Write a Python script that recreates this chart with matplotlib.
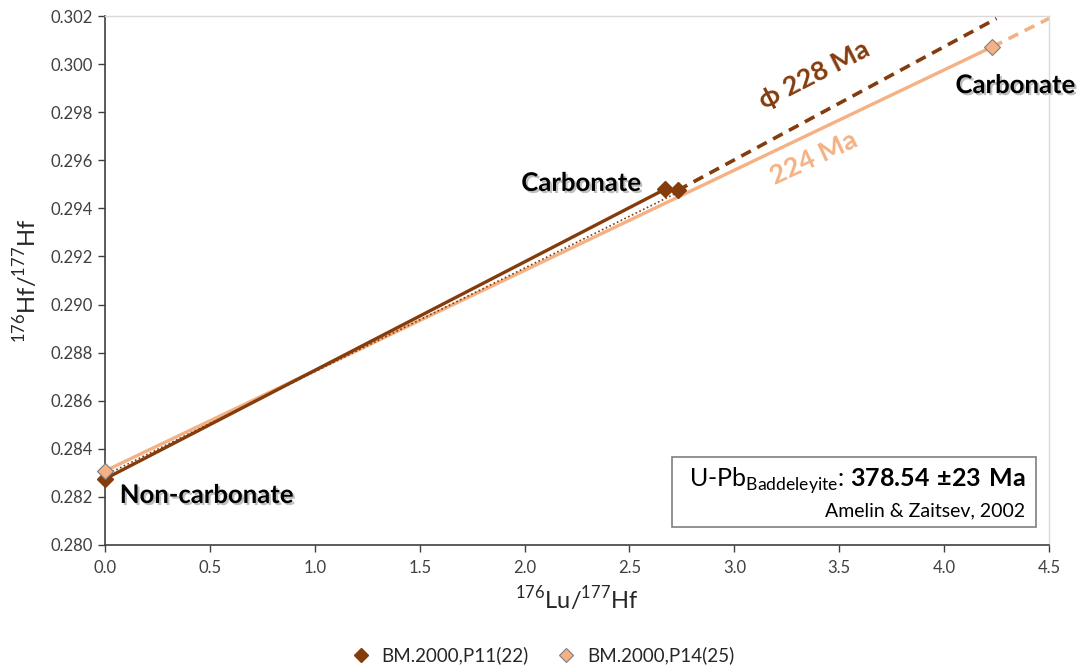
import matplotlib
matplotlib.use("Agg")
import matplotlib.pyplot as plt
import matplotlib.patheffects as pe
from matplotlib.patches import Rectangle
from matplotlib.lines import Line2D

plt.rcParams['font.family'] = ['Lato', 'DejaVu Sans']
plt.rcParams['mathtext.fontset'] = 'custom'
plt.rcParams['mathtext.rm'] = 'Lato'
plt.rcParams['mathtext.bf'] = 'Lato:bold'

# data
p11_x = [0.0, 2.67, 2.73]
p11_y = [0.28275, 0.29480, 0.29475]
p14_x = [0.0, 4.23]
p14_y = [0.28308, 0.30072]
# isochron extensions (dashed) and reference dotted line
p11_ext_x = [2.73, 4.25]
p11_ext_y = [0.29475, 0.30190]
p14_ext_x = [4.23, 4.50]
p14_ext_y = [0.30072, 0.30190]
ref_x = [0.0, 2.72]
ref_y = [0.28290, 0.29462]

dark = '#843C0C'
light = '#F4B183'

fig = plt.figure(figsize=(10.83, 6.7), dpi=100)
ax = fig.add_axes([0.097, 0.1866, 0.8716, 0.7894])

ax.plot(p11_ext_x, p11_ext_y, color=dark, lw=2.6, ls=(0, (3, 2)), zorder=2)
ax.plot(p14_ext_x, p14_ext_y, color=light, lw=2.6, ls=(0, (3, 2)), zorder=2)
ax.plot(p14_x, p14_y, color=light, lw=2.4, zorder=2)
ax.plot(p11_x[:2], p11_y[:2], color=dark, lw=2.4, zorder=3)
ax.plot(ref_x, ref_y, color=dark, lw=1.2, ls=(0, (1, 1.5)), zorder=3)

ax.plot(p11_x, p11_y, ls='none', marker='D', ms=8, color=dark, mec=dark, zorder=5, clip_on=False)
ax.plot(p14_x, p14_y, ls='none', marker='D', ms=8, color=light, mec='#7f7f7f', mew=0.8, zorder=5, clip_on=False)

ax.set_xlim(0, 4.5)
ax.set_ylim(0.280, 0.302)
ax.set_xticks([0.0, 0.5, 1.0, 1.5, 2.0, 2.5, 3.0, 3.5, 4.0, 4.5])
ax.set_yticks([0.280, 0.282, 0.284, 0.286, 0.288, 0.290, 0.292, 0.294, 0.296, 0.298, 0.300, 0.302])
ax.xaxis.set_major_formatter(matplotlib.ticker.FormatStrFormatter('%.1f'))
ax.yaxis.set_major_formatter(matplotlib.ticker.FormatStrFormatter('%.3f'))
ax.tick_params(labelsize=12, colors='#404040', length=5, width=1, direction='out')
ax.tick_params(axis='x', pad=6)
for s in ['left', 'bottom']:
    ax.spines[s].set_color('#404040')
    ax.spines[s].set_linewidth(1.2)
for s in ['top', 'right']:
    ax.spines[s].set_color('#d9d9d9')
    ax.spines[s].set_linewidth(1)

ax.set_xlabel('$^{176}$Lu/$^{177}$Hf', fontsize=17, color='#262626', labelpad=6)
ax.set_ylabel('$^{176}$Hf/$^{177}$Hf', fontsize=17, color='#262626', labelpad=8)

def label(x, y, s, ha='center'):
    t = ax.text(x, y, s, fontsize=18.5, fontweight='bold', color='black', ha=ha, va='center')
    t.set_path_effects([pe.withSimplePatchShadow(offset=(1.5, -1.5), shadow_rgbFace='#808080', alpha=0.5)])
    return t

label(2.27, 0.29506, 'Carbonate')
label(4.34, 0.29913, 'Carbonate')
label(0.07, 0.28208, 'Non-carbonate', ha='left')

ax.text(3.38, 0.29955, 'ϕ 228 Ma', fontsize=19.5, fontweight='bold', color=dark,
        ha='center', va='center', rotation=27)
ax.text(3.38, 0.29610, '224 Ma', fontsize=19.5, fontweight='bold', color=light,
        ha='center', va='center', rotation=25)

ax.add_patch(Rectangle((0.6006, 0.034), 0.386, 0.132, transform=ax.transAxes,
                       fill=False, ec='#7f7f7f', lw=1.2, zorder=6))
ax.text(0.975, 0.122, r'U-Pb$_{\mathrm{Baddeleyite}}$: $\mathbf{378.54\ ±23\ Ma}$',
        transform=ax.transAxes, ha='right', va='center', fontsize=18, color='black')
ax.text(0.975, 0.064, 'Amelin & Zaitsev, 2002', transform=ax.transAxes,
        ha='right', va='center', fontsize=14, color='black')

handles = [Line2D([], [], ls='none', marker='D', ms=7, color=dark, mec=dark),
           Line2D([], [], ls='none', marker='D', ms=7, color=light, mec='#7f7f7f', mew=0.8)]
fig.legend(handles, ['BM.2000,P11(22)', 'BM.2000,P14(25)'], loc='center',
           bbox_to_anchor=(0.497, 0.022), ncol=2, frameon=False, fontsize=13.5,
           handletextpad=0.1, columnspacing=1.0, labelcolor='#262626')

fig.savefig('out.png', dpi=100)
